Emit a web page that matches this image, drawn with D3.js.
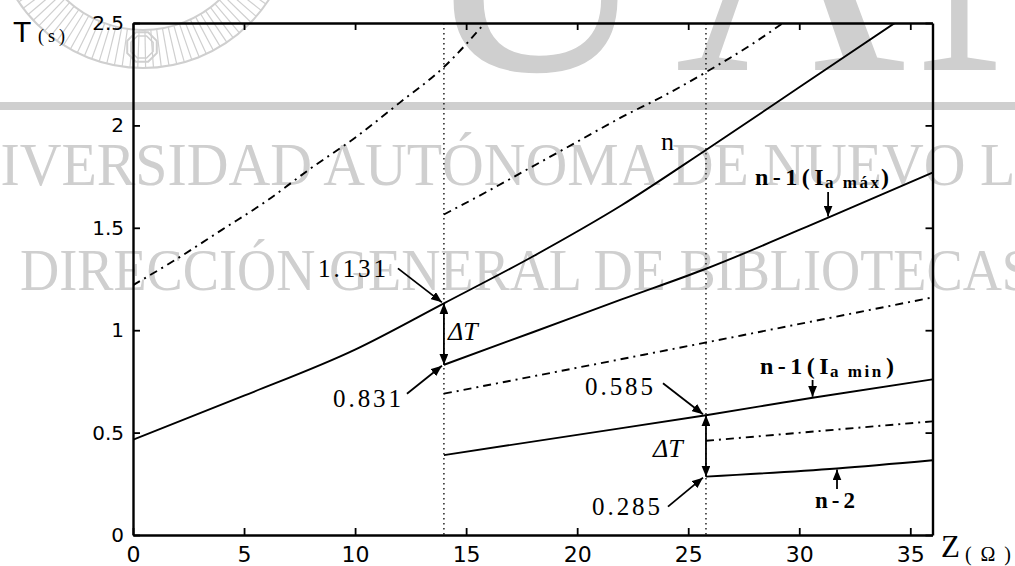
<!DOCTYPE html>
<html>
<head>
<meta charset="utf-8">
<script src="https://cdn.jsdelivr.net/npm/d3@7"></script>
<style>
  html, body { margin: 0; padding: 0; background: #fff; }
  svg { display: block; }
</style>
</head>
<body>
<svg id="chart" width="1015" height="566"></svg>
<script>
// Operating time T (s) versus impedance Z (Ω) for relays n, n-1 and n-2

const xTicks = [0, 5, 10, 15, 20, 25, 30, 35];
const xTickLabels = ["0", "5", "10", "15", "20", "25", "30", "35"];
const yTicks = [0, 0.5, 1, 1.5, 2, 2.5];
const yTickLabels = ["0", "0.5", "1", "1.5", "2", "2.5"];

// relay n
const nZ = [0, 5, 10, 14, 18, 22, 25.8, 30, 34.3];
const nT = [0.465, 0.68, 0.905, 1.131, 1.36, 1.61, 1.88, 2.186, 2.5];

// relay n-1 at maximum current
const nm1MaxZ = [14, 18, 22, 25.8, 31.3, 36];
const nm1MaxT = [0.831, 0.99, 1.15, 1.30, 1.55, 1.77];

// relay n-1 at minimum current
const nm1MinZ = [14, 20, 25.8, 30.6, 36];
const nm1MinT = [0.39, 0.489, 0.585, 0.67, 0.76];

// relay n-2
const nm2Z = [25.8, 31.7, 36];
const nm2T = [0.285, 0.325, 0.365];

// dash-dot characteristics
const ddAZ = [0, 2, 4, 6, 8, 10, 12, 14, 16];
const ddAT = [1.22, 1.35, 1.49, 1.63, 1.79, 1.94, 2.11, 2.285, 2.52];
const ddBZ = [14, 16, 18, 20, 22, 24, 25.8, 28.2, 29.4];
const ddBT = [1.565, 1.68, 1.80, 1.92, 2.04, 2.15, 2.26, 2.42, 2.51];
const ddCZ = [14, 25.8, 36];
const ddCT = [0.69, 0.94, 1.16];
const ddDZ = [25.8, 36];
const ddDT = [0.46, 0.555];

// reach boundaries (vertical dotted markers)
const zMarks = [14, 25.8];

// annotated operating times
const tAt14 = [1.131, 0.831];
const tAt26 = [0.585, 0.285];

const W = 1015, H = 566;
const svg = d3.select("#chart");

const plot = { l: 133, r: 932.5, t: 23, b: 535 };
const x = d3.scaleLinear().domain([0, 36]).range([plot.l, plot.r]);
const y = d3.scaleLinear().domain([0, 2.5]).range([plot.b, plot.t]);

// ---------- background watermark ----------
const wm = svg.append("g").attr("fill", "#cfcfcf").attr("stroke", "none");
wm.append("rect").attr("x", 0).attr("y", 102).attr("width", W).attr("height", 8);

[["U", 420], ["A", 675], ["N", 915]].forEach(([c, px]) => {
  wm.append("text")
    .attr("x", px).attr("y", 70)
    .attr("font-family", "Liberation Serif, serif")
    .attr("font-size", 320)
    .text(c);
});

// seal ring with hatching
const seal = svg.append("g").attr("stroke", "#cfcfcf").attr("fill", "none");
const sc = { x: 143, y: -82 };
const rOut = 150, rIn = 112;
seal.append("circle").attr("cx", sc.x).attr("cy", sc.y).attr("r", rOut).attr("stroke-width", 2);
seal.append("circle").attr("cx", sc.x).attr("cy", sc.y).attr("r", rIn).attr("stroke-width", 2);
d3.range(20, 161, 3).forEach(a => {
  const rad = a * Math.PI / 180;
  seal.append("line")
    .attr("x1", sc.x + rIn * Math.cos(rad)).attr("y1", sc.y + rIn * Math.sin(rad))
    .attr("x2", sc.x + rOut * Math.cos(rad)).attr("y2", sc.y + rOut * Math.sin(rad))
    .attr("stroke-width", 1.2);
});
const octagon = r => d3.range(8).map(i => {
  const a = (i * 45 + 22.5) * Math.PI / 180;
  return [142 + r * Math.cos(a), 47 + r * Math.sin(a)];
});
seal.append("path").attr("d", d3.line()(octagon(16)) + "Z").attr("stroke-width", 2);
seal.append("path").attr("d", d3.line()(octagon(12)) + "Z").attr("stroke-width", 1.5);

wm.append("text")
  .attr("x", -83).attr("y", 185)
  .attr("font-family", "Liberation Serif, serif")
  .attr("font-size", 62)
  .attr("textLength", 1217)
  .attr("lengthAdjust", "spacingAndGlyphs")
  .text("UNIVERSIDAD AUTÓNOMA DE NUEVO LEÓN");

wm.append("text")
  .attr("x", 20).attr("y", 290)
  .attr("font-family", "Liberation Serif, serif")
  .attr("font-size", 60)
  .attr("textLength", 1012)
  .attr("lengthAdjust", "spacingAndGlyphs")
  .text("DIRECCIÓN GENERAL DE BIBLIOTECAS");

// ---------- markers ----------
const defs = svg.append("defs");
defs.append("marker")
  .attr("id", "arrow")
  .attr("markerUnits", "userSpaceOnUse")
  .attr("markerWidth", 11).attr("markerHeight", 9)
  .attr("refX", 11).attr("refY", 4.5)
  .attr("orient", "auto-start-reverse")
  .append("path").attr("d", "M0,0 L11,4.5 L0,9 Z").attr("fill", "#000");

defs.append("clipPath").attr("id", "plotClip")
  .append("rect")
  .attr("x", plot.l).attr("y", plot.t)
  .attr("width", plot.r - plot.l).attr("height", plot.b - plot.t);

// ---------- axes (box with inward ticks) ----------
const tickLen = 7;
const axB = svg.append("g").attr("transform", `translate(0,${plot.b})`)
  .call(d3.axisBottom(x).tickValues(xTicks).tickFormat((d, i) => xTickLabels[i])
    .tickSizeInner(-tickLen).tickSizeOuter(0).tickPadding(11.5));
const axT = svg.append("g").attr("transform", `translate(0,${plot.t})`)
  .call(d3.axisTop(x).tickValues(xTicks).tickFormat("")
    .tickSizeInner(-tickLen).tickSizeOuter(0));
const axL = svg.append("g").attr("transform", `translate(${plot.l},0)`)
  .call(d3.axisLeft(y).tickValues(yTicks).tickFormat((d, i) => yTickLabels[i])
    .tickSizeInner(-tickLen).tickSizeOuter(0).tickPadding(9));
const axR = svg.append("g").attr("transform", `translate(${plot.r},0)`)
  .call(d3.axisRight(y).tickValues(yTicks).tickFormat("")
    .tickSizeInner(-tickLen).tickSizeOuter(0));

[axB, axT, axL, axR].forEach(g => {
  g.select(".domain").attr("stroke", "#000").attr("stroke-width", 2.4);
  g.selectAll(".tick line").attr("stroke", "#000").attr("stroke-width", 1.8);
});
axB.selectAll("text").attr("font-family", "DejaVu Sans, sans-serif").attr("font-size", 22).attr("fill", "#000");
axL.selectAll("text").attr("font-family", "DejaVu Sans, sans-serif").attr("font-size", 20).attr("fill", "#000");

// axis titles
svg.append("text").attr("x", 13).attr("y", 42)
  .attr("font-family", "Liberation Sans, Arial, sans-serif").attr("font-size", 30).text("T");
svg.append("text").attr("x", 38).attr("y", 42)
  .attr("font-family", "Liberation Serif, serif").attr("font-size", 18)
  .attr("textLength", 27).attr("lengthAdjust", "spacing").text("(s)");
svg.append("text").attr("x", 941).attr("y", 557)
  .attr("font-family", "Liberation Serif, serif").attr("font-size", 31).text("Z");
svg.append("text").attr("x", 965).attr("y", 561)
  .attr("font-family", "Liberation Serif, serif").attr("font-size", 20)
  .attr("textLength", 46).attr("lengthAdjust", "spacing").text("(Ω)");

// ---------- reach markers ----------
const gMarks = svg.append("g");
zMarks.forEach(z => {
  gMarks.append("line")
    .attr("x1", x(z)).attr("x2", x(z))
    .attr("y1", plot.t).attr("y2", plot.b)
    .attr("stroke", "#000").attr("stroke-width", 1.3)
    .attr("stroke-dasharray", "1.5,3.5");
});

// ---------- curves ----------
const curves = [
  { z: nZ, t: nT, dash: null },
  { z: nm1MaxZ, t: nm1MaxT, dash: null },
  { z: nm1MinZ, t: nm1MinT, dash: null },
  { z: nm2Z, t: nm2T, dash: null },
  { z: ddAZ, t: ddAT, dash: "8,5,2,5" },
  { z: ddBZ, t: ddBT, dash: "8,5,2,5" },
  { z: ddCZ, t: ddCT, dash: "8,5,2,5" },
  { z: ddDZ, t: ddDT, dash: "8,5,2,5" }
];
const line = d3.line().x(d => x(d[0])).y(d => y(d[1])).curve(d3.curveMonotoneX);
const gCurves = svg.append("g").attr("clip-path", "url(#plotClip)");
curves.forEach(c => {
  gCurves.append("path")
    .datum(c.z.map((z, i) => [z, c.t[i]]))
    .attr("d", line)
    .attr("fill", "none")
    .attr("stroke", "#000")
    .attr("stroke-width", 1.9)
    .attr("stroke-dasharray", c.dash);
});

// ---------- annotations ----------
const ann = svg.append("g");
function arrow(x1, y1, x2, y2, both) {
  const l = ann.append("line")
    .attr("x1", x1).attr("y1", y1).attr("x2", x2).attr("y2", y2)
    .attr("stroke", "#000").attr("stroke-width", 1.8)
    .attr("marker-end", "url(#arrow)");
  if (both) l.attr("marker-start", "url(#arrow)");
}
function numLabel(txt, xEnd, yBase) {
  ann.append("text")
    .attr("x", xEnd - 68).attr("y", yBase)
    .attr("font-family", "Liberation Serif, serif")
    .attr("font-size", 25)
    .attr("textLength", 68).attr("lengthAdjust", "spacing")
    .attr("fill", "#000")
    .text(txt);
}

// values at Z = 14
const p1 = [x(zMarks[0]), y(tAt14[0])];
const p2 = [x(zMarks[0]), y(tAt14[1])];
arrow(p1[0] - 46, p1[1] - 35, p1[0] - 2, p1[1] - 1, false);
numLabel(tAt14[0].toFixed(3), 386, 277);
arrow(p2[0] - 37, p2[1] + 29, p2[0] - 2, p2[1] + 1, false);
numLabel(tAt14[1].toFixed(3), 401, 407);
arrow(p1[0], p1[1], p2[0], p2[1], true);
ann.append("text").attr("x", 448).attr("y", 340)
  .attr("font-family", "Liberation Serif, serif").attr("font-style", "italic")
  .attr("font-size", 26).text("ΔT");

// values at Z = 25.8
const q1 = [x(zMarks[1]), y(tAt26[0])];
const q2 = [x(zMarks[1]), y(tAt26[1])];
arrow(q1[0] - 43, q1[1] - 32, q1[0] - 3, q1[1] - 1, false);
numLabel(tAt26[0].toFixed(3), 653, 395);
arrow(q2[0] - 38, q2[1] + 30, q2[0] - 3, q2[1] + 1, false);
numLabel(tAt26[1].toFixed(3), 660, 515);
arrow(q1[0], q1[1], q2[0], q2[1], true);
ann.append("text").attr("x", 653).attr("y", 457)
  .attr("font-family", "Liberation Serif, serif").attr("font-style", "italic")
  .attr("font-size", 26).text("ΔT");

// curve names
const nameFont = "Liberation Serif, serif";
ann.append("text").attr("x", 661).attr("y", 150)
  .attr("font-family", nameFont).attr("font-size", 26).text("n");

// "n-1(I_a ...)" label: main part, lowered subscript, closing bracket
function relayLabel(x0, yBase, sub) {
  const t = ann.append("text").attr("y", yBase)
    .attr("font-family", nameFont).attr("font-weight", "bold").attr("fill", "#000");
  t.append("tspan").attr("x", x0).attr("font-size", 24).attr("letter-spacing", 4.5).text("n-1(I");
  t.append("tspan").attr("x", x0 + 70).attr("dy", 3).attr("font-size", 17)
    .attr("letter-spacing", 2.5).text(sub);
  t.append("tspan").attr("x", x0 + 126).attr("dy", -3).attr("font-size", 24).text(")");
}
relayLabel(755, 185, "a máx");
arrow(x(31.3), 192, x(31.3), y(1.55) - 1, false);

relayLabel(760, 374, "a min");
arrow(x(30.6), 380, x(30.6), y(0.67) - 1, false);

ann.append("text").attr("x", 815).attr("y", 508)
  .attr("font-family", nameFont).attr("font-weight", "bold").attr("font-size", 23)
  .attr("letter-spacing", 4).text("n-2");
arrow(x(31.7), 489, x(31.7), y(0.325) + 1, false);
</script>
</body>
</html>
